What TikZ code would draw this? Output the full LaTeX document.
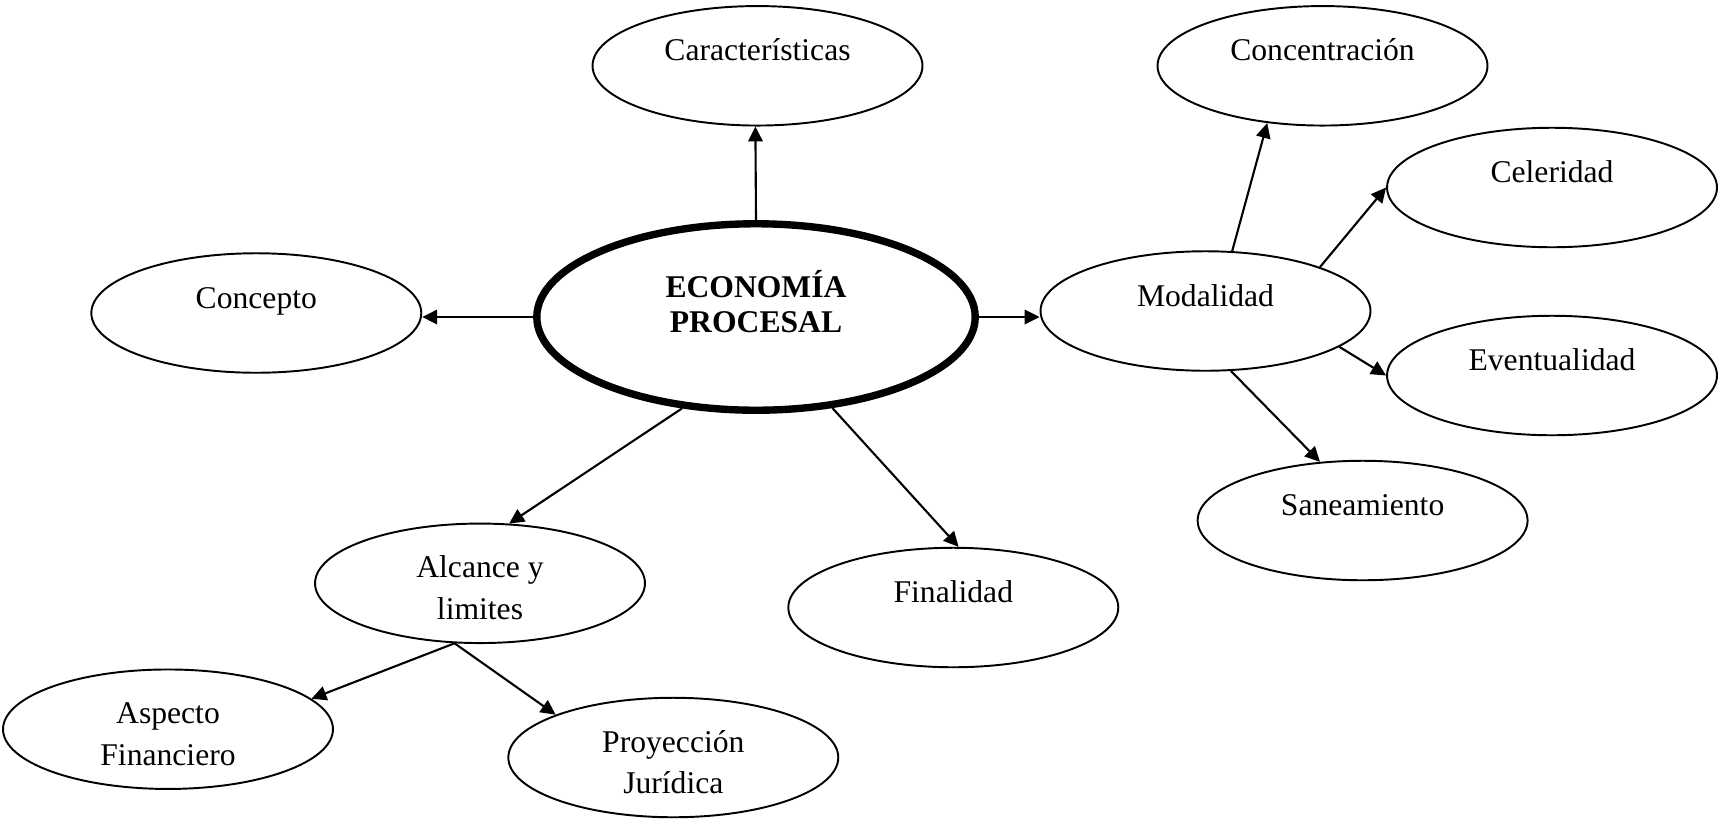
\documentclass[tikz,border=0pt]{standalone}
\usepackage{fontspec}
\setmainfont{Liberation Serif}
\usetikzlibrary{shapes.geometric,arrows.meta,calc}
\begin{document}
\begin{tikzpicture}[x=0.02cm,y=-0.02cm,
  ell/.style={ellipse, draw, line width=1.1pt, minimum width=6.6cm, minimum height=2.39cm, inner sep=0pt},
  mainell/.style={ellipse, draw, line width=4.2pt, minimum width=8.77cm, minimum height=3.73cm, inner sep=0pt},
  lbl/.style={anchor=base, inner sep=0pt, font=\fontsize{18}{23.6}\selectfont},
  arr/.style={line width=1.2pt, -{Triangle[length=8.5pt,width=8.2pt]}}]

\useasboundingbox (0,0) rectangle (1719,819);

% ellipses
\node[mainell] (eco) at (756,317) {};
\node[ell] (car) at (757.5,65.8) {};
\node[ell] (cnc) at (1322.5,65.8) {};
\node[ell] (cel) at (1552,187.5) {};
\node[ell] (cpt) at (256.3,313) {};
\node[ell] (mod) at (1205.5,311) {};
\node[ell] (evt) at (1552,375.5) {};
\node[ell] (san) at (1362.6,520.5) {};
\node[ell] (alc) at (480,583.3) {};
\node[ell] (fin) at (953.3,607.5) {};
\node[ell] (asp) at (168,729.2) {};
\node[ell] (pro) at (673.3,757.5) {};

% texts
\node[lbl, font=\fontsize{18}{20.4}\selectfont\bfseries] (eco-t) at ($(eco)+(0,-20)$) {\parbox[t]{8cm}{\centering ECONOMÍA\\PROCESAL}};
\node[lbl] (car-t) at ($(car)+(0,-5)$) {Características};
\node[lbl] (cnc-t) at ($(cnc)+(0,-5)$) {Concentración};
\node[lbl] (cel-t) at ($(cel)+(0,-5)$) {Celeridad};
\node[lbl] (cpt-t) at ($(cpt)+(0,-5)$) {Concepto};
\node[lbl] (mod-t) at ($(mod)+(0,-5)$) {Modalidad};
\node[lbl] (evt-t) at ($(evt)+(0,-5)$) {Eventualidad};
\node[lbl] (san-t) at ($(san)+(0,-5)$) {Saneamiento};
\node[lbl] (fin-t) at ($(fin)+(0,-5)$) {Finalidad};
\node[lbl] (alc-t) at ($(alc)+(0,-5.5)$) {\parbox[t]{6cm}{\centering Alcance y\\limites}};
\node[lbl] (asp-t) at ($(asp)+(0,-5.5)$) {\parbox[t]{6cm}{\centering Aspecto\\Financiero}};
\node[lbl] (pro-t) at ($(pro)+(0,-5.5)$) {\parbox[t]{6cm}{\centering Proyección\\Jurídica}};

% connectors
\draw[arr] (eco.90) -- (car.268);
\draw[arr] (eco.west) -- (eco.west -| cpt.east);
\draw[arr] (eco.east) -- (eco.east -| mod.west);
\draw[arr] (eco.231.3) -- (alc.64);
\draw[arr] (eco.310.7) -- (fin.85.6);
\draw[arr] (mod.66.4) -- (cnc.226.6);
\draw[arr] (mod.21.8) -- (cel.west);
\draw[arr] (mod.345.2) -- (evt.west);
\draw[arr] (mod.293.5) -- (san.126.4);
\draw[arr] (alc.247.9) -- (asp.12.2);
\draw[arr] (alc.247.9) -- (pro.160.1);
\end{tikzpicture}
\end{document}
